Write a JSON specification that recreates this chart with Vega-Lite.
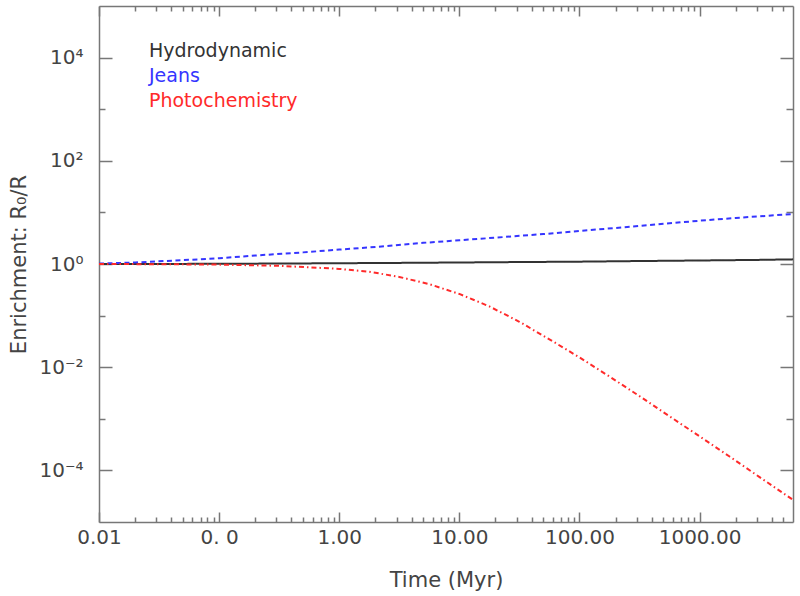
{
  "$schema": "https://vega.github.io/schema/vega-lite/v6.json",
  "width": 694,
  "height": 516,
  "autosize": "none",
  "padding": {"left": 99, "top": 6, "right": 7, "bottom": 74},
  "background": "white",
  "config": {
    "view": {"stroke": null},
    "font": "DejaVu Sans",
    "axis": {
      "grid": false,
      "domainColor": "#777777",
      "domainWidth": 1.5,
      "tickColor": "#777777",
      "tickWidth": 1.5,
      "labelColor": "#444444",
      "titleColor": "#444444",
      "labelFont": "DejaVu Sans",
      "titleFont": "DejaVu Sans",
      "labelFontSize": 20,
      "titleFontSize": 21,
      "titleFontWeight": "normal",
      "labelFlush": false,
      "labelOverlap": false,
      "labelBound": false
    }
  },
  "data": {
    "values": [
      {"t": 0.01, "R": 1.0, "model": "Hydrodynamic"},
      {"t": 0.02, "R": 1.002, "model": "Hydrodynamic"},
      {"t": 0.05, "R": 1.005, "model": "Hydrodynamic"},
      {"t": 0.1, "R": 1.01, "model": "Hydrodynamic"},
      {"t": 0.3, "R": 1.02, "model": "Hydrodynamic"},
      {"t": 1, "R": 1.035, "model": "Hydrodynamic"},
      {"t": 3, "R": 1.05, "model": "Hydrodynamic"},
      {"t": 10, "R": 1.07, "model": "Hydrodynamic"},
      {"t": 30, "R": 1.09, "model": "Hydrodynamic"},
      {"t": 100, "R": 1.11, "model": "Hydrodynamic"},
      {"t": 300, "R": 1.14, "model": "Hydrodynamic"},
      {"t": 1000, "R": 1.17, "model": "Hydrodynamic"},
      {"t": 3000, "R": 1.2, "model": "Hydrodynamic"},
      {"t": 6000, "R": 1.23, "model": "Hydrodynamic"},
      {"t": 0.01, "R": 1.02, "model": "Jeans"},
      {"t": 0.02, "R": 1.07, "model": "Jeans"},
      {"t": 0.05, "R": 1.19, "model": "Jeans"},
      {"t": 0.1, "R": 1.29, "model": "Jeans"},
      {"t": 0.2, "R": 1.46, "model": "Jeans"},
      {"t": 0.5, "R": 1.68, "model": "Jeans"},
      {"t": 1, "R": 1.9, "model": "Jeans"},
      {"t": 2, "R": 2.14, "model": "Jeans"},
      {"t": 5, "R": 2.57, "model": "Jeans"},
      {"t": 10, "R": 2.88, "model": "Jeans"},
      {"t": 20, "R": 3.24, "model": "Jeans"},
      {"t": 50, "R": 3.8, "model": "Jeans"},
      {"t": 100, "R": 4.37, "model": "Jeans"},
      {"t": 200, "R": 5.0, "model": "Jeans"},
      {"t": 500, "R": 6.0, "model": "Jeans"},
      {"t": 1000, "R": 6.9, "model": "Jeans"},
      {"t": 2000, "R": 7.8, "model": "Jeans"},
      {"t": 6000, "R": 9.3, "model": "Jeans"},
      {"t": 0.01, "R": 1.0, "model": "Photochemistry"},
      {"t": 0.0316, "R": 0.991, "model": "Photochemistry"},
      {"t": 0.1, "R": 0.973, "model": "Photochemistry"},
      {"t": 0.316, "R": 0.923, "model": "Photochemistry"},
      {"t": 1, "R": 0.804, "model": "Photochemistry"},
      {"t": 1.778, "R": 0.708, "model": "Photochemistry"},
      {"t": 3.162, "R": 0.562, "model": "Photochemistry"},
      {"t": 5.623, "R": 0.407, "model": "Photochemistry"},
      {"t": 10, "R": 0.263, "model": "Photochemistry"},
      {"t": 17.78, "R": 0.151, "model": "Photochemistry"},
      {"t": 31.62, "R": 0.0759, "model": "Photochemistry"},
      {"t": 56.23, "R": 0.0347, "model": "Photochemistry"},
      {"t": 100, "R": 0.0155, "model": "Photochemistry"},
      {"t": 177.8, "R": 0.0066, "model": "Photochemistry"},
      {"t": 316.2, "R": 0.00275, "model": "Photochemistry"},
      {"t": 562.3, "R": 0.00112, "model": "Photochemistry"},
      {"t": 1000, "R": 0.000457, "model": "Photochemistry"},
      {"t": 1778, "R": 0.000186, "model": "Photochemistry"},
      {"t": 3162, "R": 0.0000741, "model": "Photochemistry"},
      {"t": 6000, "R": 0.0000269, "model": "Photochemistry"}
    ]
  },
  "resolve": {"axis": {"x": "independent", "y": "independent"}},
  "layer": [
    {
      "mark": {"type": "line", "strokeWidth": 2},
      "encoding": {
        "x": {
          "field": "t", "type": "quantitative",
          "scale": {"type": "log", "domain": [0.01, 6000], "nice": false},
          "axis": {
            "orient": "bottom",
            "values": [0.01, 0.1, 1, 10, 100, 1000],
            "tickSize": -10,
            "labelPadding": 15,
            "labelExpr": "datum.value == 0.01 ? '0.01' : datum.value == 0.1 ? '0. 0' : datum.value == 1 ? '1.00' : datum.value == 10 ? '10.00' : datum.value == 100 ? '100.00' : '1000.00'",
            "title": "Time (Myr)",
            "titlePadding": 22
          }
        },
        "y": {
          "field": "R", "type": "quantitative",
          "scale": {"type": "log", "domain": [0.00001, 100000], "nice": false},
          "axis": {
            "orient": "left",
            "values": [0.0001, 0.01, 1, 100, 10000],
            "tickSize": -13,
            "labelPadding": 29,
            "labelBaseline": "middle",
            "labelExpr": "datum.value == 10000 ? '10⁴' : datum.value == 100 ? '10²' : datum.value == 1 ? '10⁰' : datum.value == 0.01 ? '10⁻²' : '10⁻⁴'",
            "title": "Enrichment: R₀/R",
            "titlePadding": 9
          }
        },
        "color": {
          "field": "model", "type": "nominal",
          "scale": {"domain": ["Hydrodynamic", "Jeans", "Photochemistry"], "range": ["#333333", "#3535ff", "#ff2a2a"]},
          "legend": {
            "title": null,
            "orient": "none",
            "legendX": 31,
            "legendY": 35,
            "padding": 0,
            "symbolSize": 0,
            "symbolOpacity": 0,
            "symbolStrokeWidth": 0,
            "labelOffset": 0,
            "labelFont": "DejaVu Sans",
            "labelFontSize": 19,
            "rowPadding": 5,
            "encode": {"labels": {"update": {"fill": {"scale": "color", "field": "value"}}}}
          }
        },
        "strokeDash": {
          "field": "model", "type": "nominal",
          "scale": {"domain": ["Hydrodynamic", "Jeans", "Photochemistry"], "range": [[1, 0], [5, 3.5], [5, 3, 1.5, 3]]},
          "legend": null
        }
      }
    },
    {
      "mark": {"type": "line", "strokeOpacity": 0},
      "encoding": {
        "x": {
          "field": "t", "type": "quantitative",
          "scale": {"type": "log", "domain": [0.01, 6000], "nice": false},
          "axis": {
            "orient": "bottom", "domain": false, "labels": false, "title": null,
            "tickSize": -5,
            "values": [0.02, 0.03, 0.04, 0.05, 0.06, 0.07, 0.08, 0.09, 0.2, 0.3, 0.4, 0.5, 0.6, 0.7, 0.8, 0.9, 2, 3, 4, 5, 6, 7, 8, 9, 20, 30, 40, 50, 60, 70, 80, 90, 200, 300, 400, 500, 600, 700, 800, 900, 2000, 3000, 4000, 5000]
          }
        },
        "y": {
          "field": "R", "type": "quantitative",
          "scale": {"type": "log", "domain": [0.00001, 100000], "nice": false},
          "axis": {
            "orient": "left", "domain": false, "labels": false, "title": null,
            "tickSize": -6,
            "values": [0.001, 0.1, 10, 1000]
          }
        }
      }
    },
    {
      "mark": {"type": "line", "strokeOpacity": 0},
      "encoding": {
        "x": {
          "field": "t", "type": "quantitative",
          "scale": {"type": "log", "domain": [0.01, 6000], "nice": false},
          "axis": {
            "orient": "top", "labels": false, "title": null,
            "tickSize": -10,
            "values": [0.01, 0.1, 1, 10, 100, 1000]
          }
        },
        "y": {
          "field": "R", "type": "quantitative",
          "scale": {"type": "log", "domain": [0.00001, 100000], "nice": false},
          "axis": {
            "orient": "right", "labels": false, "title": null,
            "tickSize": -13,
            "values": [0.0001, 0.01, 1, 100, 10000]
          }
        }
      }
    },
    {
      "mark": {"type": "line", "strokeOpacity": 0},
      "encoding": {
        "x": {
          "field": "t", "type": "quantitative",
          "scale": {"type": "log", "domain": [0.01, 6000], "nice": false},
          "axis": {
            "orient": "top", "domain": false, "labels": false, "title": null,
            "tickSize": -5,
            "values": [0.02, 0.03, 0.04, 0.05, 0.06, 0.07, 0.08, 0.09, 0.2, 0.3, 0.4, 0.5, 0.6, 0.7, 0.8, 0.9, 2, 3, 4, 5, 6, 7, 8, 9, 20, 30, 40, 50, 60, 70, 80, 90, 200, 300, 400, 500, 600, 700, 800, 900, 2000, 3000, 4000, 5000]
          }
        },
        "y": {
          "field": "R", "type": "quantitative",
          "scale": {"type": "log", "domain": [0.00001, 100000], "nice": false},
          "axis": {
            "orient": "right", "domain": false, "labels": false, "title": null,
            "tickSize": -7,
            "values": [0.001, 0.1, 10, 1000]
          }
        }
      }
    }
  ]
}
